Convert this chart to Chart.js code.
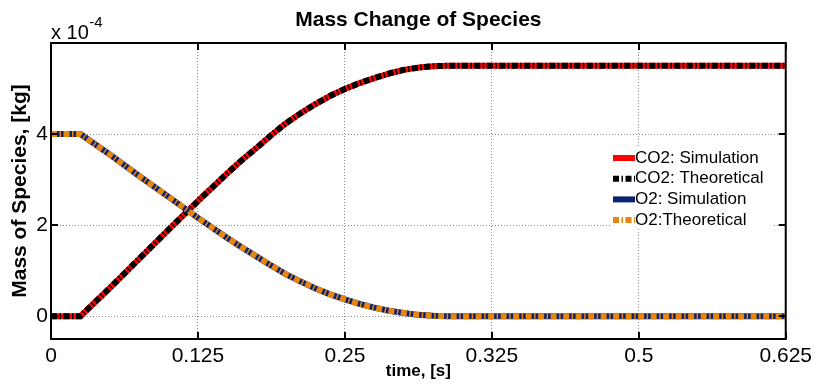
<!DOCTYPE html>
<html>
<head>
<meta charset="utf-8">
<script src="https://cdn.jsdelivr.net/npm/chart.js@4.4.1/dist/chart.umd.min.js"></script>
<style>
  html, body { margin: 0; padding: 0; background: #fff; }
  #wrap { width: 817px; height: 385px; }
</style>
</head>
<body>
<div id="wrap"><canvas id="c" width="817" height="385"></canvas></div>
<script>
const FONT = '"Liberation Sans", Arial, Helvetica, sans-serif';

// time axis, seconds
const timeS = [0, 0.025, 0.05, 0.075, 0.1, 0.125, 0.15, 0.1625, 0.175, 0.1875, 0.2,
               0.2125, 0.225, 0.2375, 0.25, 0.2625, 0.275, 0.2875, 0.3, 0.3125, 0.325,
               0.3375, 0.35, 0.4, 0.45, 0.5, 0.55, 0.6, 0.625];
// masses in units of 1e-4 kg (as shown on the axis)
const co2Sim  = [0, 0, 0.62, 1.26, 1.90, 2.53, 3.14, 3.43, 3.70, 3.98, 4.24,
                 4.46, 4.66, 4.84, 4.99, 5.12, 5.23, 5.33, 5.41, 5.46, 5.49,
                 5.50, 5.50, 5.50, 5.50, 5.50, 5.50, 5.50, 5.50];
const co2Theo = [0, 0, 0.62, 1.26, 1.90, 2.53, 3.14, 3.43, 3.70, 3.98, 4.24,
                 4.46, 4.66, 4.84, 4.99, 5.12, 5.23, 5.33, 5.41, 5.46, 5.49,
                 5.50, 5.50, 5.50, 5.50, 5.50, 5.50, 5.50, 5.50];
const o2Sim   = [4, 4, 3.55, 3.08, 2.62, 2.16, 1.72, 1.51, 1.31, 1.11, 0.92,
                 0.76, 0.61, 0.48, 0.37, 0.27, 0.19, 0.12, 0.07, 0.03, 0.01,
                 0, 0, 0, 0, 0, 0, 0, 0];
const o2Theo  = [4, 4, 3.55, 3.08, 2.62, 2.16, 1.72, 1.51, 1.31, 1.11, 0.92,
                 0.76, 0.61, 0.48, 0.37, 0.27, 0.19, 0.12, 0.07, 0.03, 0.01,
                 0, 0, 0, 0, 0, 0, 0, 0];

const seriesNames = ['CO2: Simulation', 'CO2: Theoretical', 'O2: Simulation', 'O2:Theoretical'];
const xTickVals   = [0, 0.125, 0.25, 0.375, 0.5, 0.625];
const xTickLabels = ['0', '0.125', '0.25', '0.325', '0.5', '0.625'];
const yTickVals   = [0, 2, 4];

const pts = ys => ys.map((y, i) => ({ x: timeS[i], y }));
const DASH = [6, 2.5, 1.5, 2.5];

function lineSet(label, ys, color, dash, order) {
  return {
    label, data: pts(ys),
    borderColor: color, backgroundColor: color,
    borderWidth: 6, borderDash: dash, borderCapStyle: 'butt', borderJoinStyle: 'round',
    pointRadius: 0, fill: false, tension: 0, order,
  };
}

// MATLAB-ish decorations: frame, inward ticks, title, exponent, legend
const matlabDeco = {
  id: 'matlabDeco',
  afterDatasetsDraw(chart) {
    const { ctx, chartArea: a, scales: { x, y } } = chart;
    ctx.save();

    // frame
    ctx.setLineDash([]);
    ctx.strokeStyle = '#000';
    ctx.lineWidth = 2;
    ctx.strokeRect(a.left, a.top, a.right - a.left, a.bottom - a.top);

    // inward ticks on all four sides
    const tl = 7;
    ctx.beginPath();
    xTickVals.forEach(v => {
      const px = Math.round(x.getPixelForValue(v));
      ctx.moveTo(px, a.bottom); ctx.lineTo(px, a.bottom - tl);
      ctx.moveTo(px, a.top);    ctx.lineTo(px, a.top + tl);
    });
    yTickVals.forEach(v => {
      const py = Math.round(y.getPixelForValue(v));
      ctx.moveTo(a.left, py);  ctx.lineTo(a.left + tl, py);
      ctx.moveTo(a.right, py); ctx.lineTo(a.right - tl, py);
    });
    ctx.stroke();

    // title
    ctx.fillStyle = '#000';
    ctx.font = 'bold 21px ' + FONT;
    ctx.textAlign = 'center';
    ctx.textBaseline = 'middle';
    ctx.fillText('Mass Change of Species', (a.left + a.right) / 2, 20);

    // exponent label
    ctx.textAlign = 'left';
    ctx.textBaseline = 'alphabetic';
    ctx.font = '20px ' + FONT;
    ctx.fillText('x 10', a.left, 39);
    const w = ctx.measureText('x 10').width;
    ctx.font = '15px ' + FONT;
    ctx.fillText('-4', a.left + w + 0.5, 27);

    // legend box (no border, hides grid)
    const lx = 610, ly = 147, lw = 163, lh = 82;
    ctx.fillStyle = '#fff';
    ctx.fillRect(lx, ly, lw, lh);
    ctx.font = '17px ' + FONT;
    ctx.textBaseline = 'middle';
    chart.data.datasets.forEach((ds, i) => {
      const cy = ly + 11 + i * 20.7;
      ctx.beginPath();
      ctx.setLineDash(ds.borderDash || []);
      ctx.lineCap = 'butt';
      ctx.strokeStyle = ds.borderColor;
      ctx.lineWidth = 6;
      ctx.moveTo(lx + 3, cy); ctx.lineTo(lx + 25, cy);
      ctx.stroke();
      ctx.setLineDash([]);
      ctx.fillStyle = '#000';
      ctx.fillText(seriesNames[i], lx + 25, cy);
    });

    ctx.restore();
  }
};

new Chart(document.getElementById('c'), {
  type: 'line',
  data: {
    datasets: [
      lineSet(seriesNames[0], co2Sim,  '#ff0000', [],   4),
      lineSet(seriesNames[1], co2Theo, '#000000', DASH, 3),
      lineSet(seriesNames[2], o2Sim,   '#0c2470', [],   2),
      lineSet(seriesNames[3], o2Theo,  '#e8850c', DASH, 1),
    ]
  },
  options: {
    responsive: false,
    animation: false,
    devicePixelRatio: 1,
    layout: { padding: { top: 43, right: 28, left: 0, bottom: 0 } },
    plugins: { legend: { display: false }, tooltip: { enabled: false }, title: { display: false } },
    scales: {
      x: {
        type: 'linear', min: 0, max: 0.625,
        afterBuildTicks: s => { s.ticks = xTickVals.map(v => ({ value: v })); },
        afterFit: s => { s.height = 46; },
        grid: { color: '#8c8c8c', lineWidth: 1, drawTicks: false },
        border: { display: false, dash: [1, 2] },
        ticks: {
          autoSkip: false, maxRotation: 0, padding: 5, color: '#000',
          font: { family: FONT, size: 21 },
          callback: (v, i) => xTickLabels[i],
        },
        title: {
          display: true, text: 'time, [s]', color: '#000',
          font: { family: FONT, size: 17, weight: 'bold' }, padding: { top: 0, bottom: 3 },
        },
      },
      y: {
        type: 'linear', min: -0.5, max: 6,
        afterBuildTicks: s => { s.ticks = yTickVals.map(v => ({ value: v })); },
        afterFit: s => { s.width = 51; },
        grid: { color: '#8c8c8c', lineWidth: 1, drawTicks: false },
        border: { display: false, dash: [1, 2] },
        ticks: {
          padding: 3, color: '#000',
          font: { family: FONT, size: 21 },
          callback: v => String(v),
        },
        title: {
          display: true, text: 'Mass of Species, [kg]', color: '#000',
          font: { family: FONT, size: 21, weight: 'bold' }, padding: { top: 8, bottom: 0 },
        },
      },
    },
  },
  plugins: [matlabDeco],
});
</script>
</body>
</html>
